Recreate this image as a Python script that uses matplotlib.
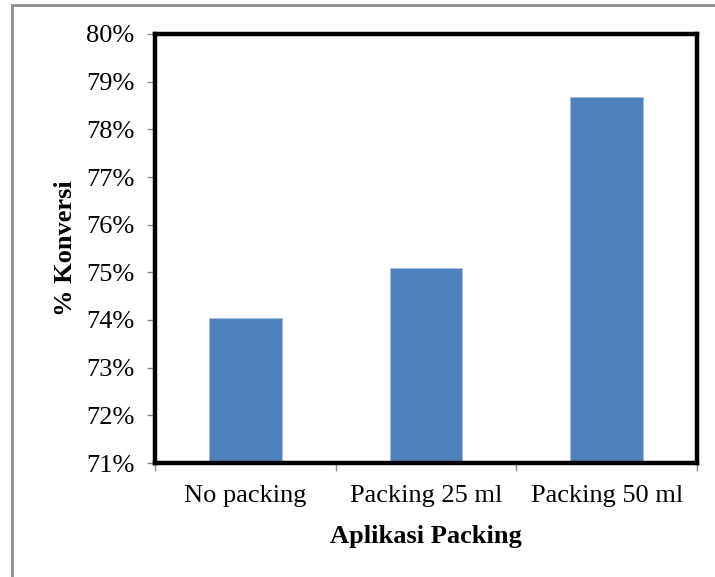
import matplotlib.pyplot as plt
from matplotlib.patches import Rectangle
from matplotlib.ticker import FuncFormatter, MultipleLocator

kategori = ['No packing', 'Packing 25 ml', 'Packing 50 ml']
konversi = [74.04, 75.10, 78.68]

plt.rcParams['font.family'] = ['Liberation Serif', 'DejaVu Serif']

W, H = 715, 577
fig = plt.figure(figsize=(W / 100, H / 100), dpi=100)

# ramka wokół całego wykresu (prawa i dolna krawędź poza obrazem)
fig.add_artist(Rectangle((12 / W, -0.05), 1.1, 1.05 - 5 / H,
                         transform=fig.transFigure,
                         fill=False, edgecolor='#8c8c8c', lw=2))

ax = fig.add_axes([155 / W, 1 - 463 / H, (697 - 155) / W, (463 - 34) / H])

x = list(range(len(kategori)))
ax.bar(x, [v - 71 for v in konversi], bottom=71, width=0.404,
       color='#4f81bd', edgecolor='#a7c0e0', linewidth=0.6, zorder=2)

ax.set_xlim(-0.5, 2.5)
ax.set_ylim(71, 80)
ax.yaxis.set_major_locator(MultipleLocator(1))
ax.yaxis.set_major_formatter(FuncFormatter(lambda v, p: f'{v:.0f}%'))

ax.set_xticks([-0.5, 0.5, 1.5, 2.5])
ax.set_xticklabels([])
ax.set_xticks(x, minor=True)
ax.set_xticklabels(kategori, minor=True)
ax.tick_params(axis='x', which='minor', length=0, pad=16, labelsize=19)
ax.tick_params(axis='x', which='major', length=6, width=1, color='#8c8c8c',
               direction='out')
ax.tick_params(axis='y', length=6, width=1, color='#8c8c8c', direction='out',
               labelsize=19, pad=9)

for s in ax.spines.values():
    s.set_color('black')
    s.set_linewidth(3.2)

ax.set_ylabel('% Konversi', fontsize=19, fontweight='bold', labelpad=6)
ax.set_xlabel('Aplikasi Packing', fontsize=19, fontweight='bold', labelpad=13)

fig.savefig('out.png', dpi=100)
